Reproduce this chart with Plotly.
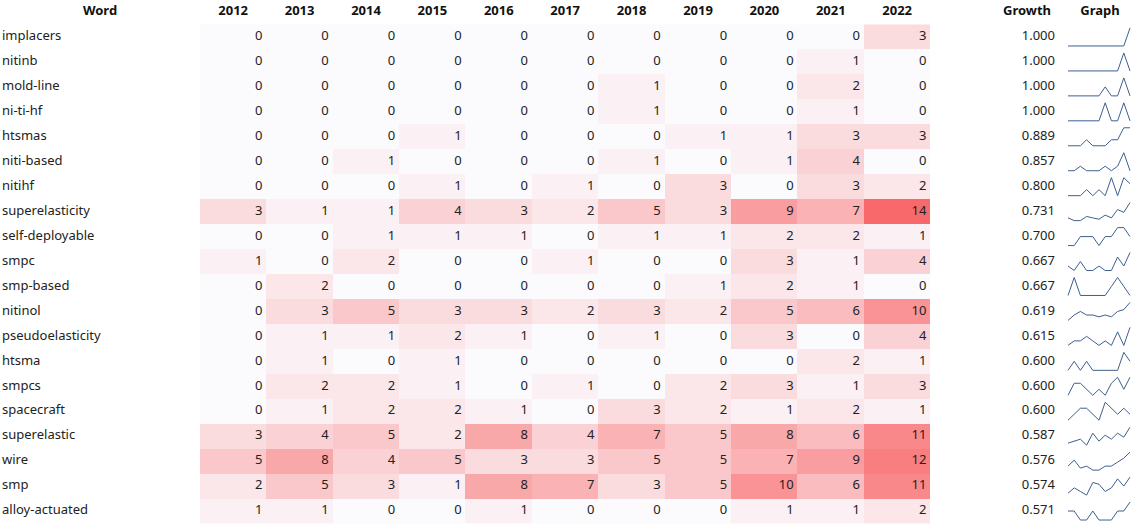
import plotly.graph_objects as go

words = ["implacers","nitinb","mold-line","ni-ti-hf","htsmas","niti-based","nitihf","superelasticity",
         "self-deployable","smpc","smp-based","nitinol","pseudoelasticity","htsma","smpcs","spacecraft",
         "superelastic","wire","smp","alloy-actuated"]
years = [2012,2013,2014,2015,2016,2017,2018,2019,2020,2021,2022]
values = [
 [0,0,0,0,0,0,0,0,0,0,3],
 [0,0,0,0,0,0,0,0,0,1,0],
 [0,0,0,0,0,0,1,0,0,2,0],
 [0,0,0,0,0,0,1,0,0,1,0],
 [0,0,0,1,0,0,0,1,1,3,3],
 [0,0,1,0,0,0,1,0,1,4,0],
 [0,0,0,1,0,1,0,3,0,3,2],
 [3,1,1,4,3,2,5,3,9,7,14],
 [0,0,1,1,1,0,1,1,2,2,1],
 [1,0,2,0,0,1,0,0,3,1,4],
 [0,2,0,0,0,0,0,1,2,1,0],
 [0,3,5,3,3,2,3,2,5,6,10],
 [0,1,1,2,1,0,1,0,3,0,4],
 [0,1,0,1,0,0,0,0,0,2,1],
 [0,2,2,1,0,1,0,2,3,1,3],
 [0,1,2,2,1,0,3,2,1,2,1],
 [3,4,5,2,8,4,7,5,8,6,11],
 [5,8,4,5,3,3,5,5,7,9,12],
 [2,5,3,1,8,7,3,5,10,6,11],
 [1,1,0,0,1,0,0,0,1,1,2],
]
growth = [1.000,1.000,1.000,1.000,0.889,0.857,0.800,0.731,0.700,0.667,0.667,0.619,0.615,0.600,0.600,0.600,0.587,0.576,0.574,0.571]

X0, CW = 200.0, 66.4
Y0, RH = 24.5, 24.95
FONT = "Noto Sans"

fig = go.Figure()
fig.add_trace(go.Heatmap(
    z=values, x0=X0 + CW/2, dx=CW, y0=Y0 + RH/2, dy=RH,
    colorscale=[[0, "#fbfbfe"], [1, "#f8696b"]], zmin=0, zmax=14,
    showscale=False, hoverinfo="skip"))

rows_y = [Y0 + RH/2 + i*RH for i in range(len(words))]

nx, ny, nt = [], [], []
for i, row in enumerate(values):
    for j, v in enumerate(row):
        nx.append(X0 + (j+1)*CW - 4); ny.append(rows_y[i]); nt.append(str(v))
fig.add_trace(go.Scatter(x=nx, y=ny, text=nt, mode="text", textposition="middle left",
                         textfont=dict(family=FONT, size=13, color="#222"), hoverinfo="skip"))
fig.add_trace(go.Scatter(x=[2]*len(words), y=rows_y, text=words, mode="text", textposition="middle right",
                         textfont=dict(family=FONT, size=13, color="#222"), hoverinfo="skip"))
fig.add_trace(go.Scatter(x=[1055]*len(words), y=rows_y, text=[f"{g:.3f}" for g in growth], mode="text",
                         textposition="middle left", textfont=dict(family=FONT, size=13, color="#222"), hoverinfo="skip"))
sx, sy = [], []
for i, row in enumerate(values):
    lo, hi = min(row), max(row)
    rng = (hi - lo) or 1
    for j, v in enumerate(row):
        sx.append(1068 + j*(62/(len(row)-1)))
        sy.append(rows_y[i] + 9 - 18*(v - lo)/rng)
    sx.append(None); sy.append(None)
fig.add_trace(go.Scatter(x=sx, y=sy, mode="lines", line=dict(color="#3d5f8f", width=1), hoverinfo="skip"))

hx = [100] + [X0 + CW*(j+0.5) for j in range(len(years))] + [1027, 1100]
ht = ["<b>Word</b>"] + [f"<b>{y}</b>" for y in years] + ["<b>Growth</b>", "<b>Graph</b>"]
fig.add_trace(go.Scatter(x=hx, y=[12]*len(hx), text=ht, mode="text", textposition="middle center",
                         textfont=dict(family=FONT, size=13, color="#111"), hoverinfo="skip"))

fig.update_layout(width=1136, height=526, margin=dict(l=0, r=0, t=0, b=0),
                  plot_bgcolor="white", paper_bgcolor="white", showlegend=False,
                  xaxis=dict(range=[0, 1136], visible=False, fixedrange=True),
                  yaxis=dict(range=[526, 0], visible=False, fixedrange=True))
fig.write_html("out.html", config={"displayModeBar": False},
               post_script="document.body.style.margin='0';document.body.style.overflow='hidden';")
